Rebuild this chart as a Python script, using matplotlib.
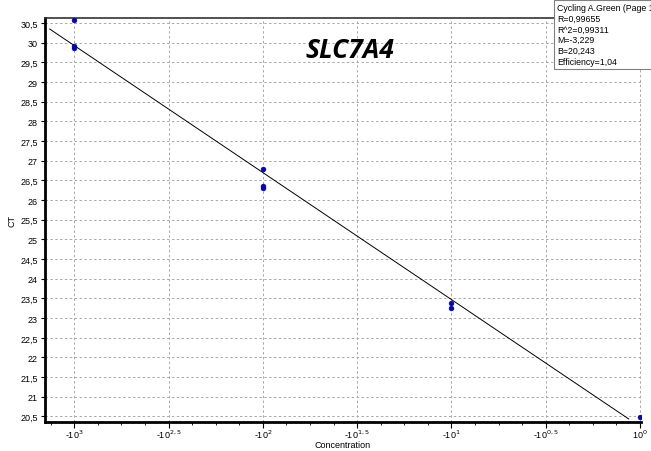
import matplotlib
matplotlib.use('Agg')
import matplotlib.pyplot as plt
from matplotlib.ticker import MultipleLocator, FixedLocator

# log concentration vs CT
log_conc = [-3, -3, -3, -2, -2, -2, -1, -1, 0]
ct = [30.58, 29.93, 29.88, 26.80, 26.35, 26.30, 23.38, 23.25, 20.48]

slope = -3.229
intercept = 20.243
fit_range = [-3.13, -0.06]

x_ticks = [-3, -2.5, -2, -1.5, -1, -0.5, 0]
x_labels = ['-10$^{3}$', '-10$^{2,5}$', '-10$^{2}$', '-10$^{1,5}$',
            '-10$^{1}$', '-10$^{0,5}$', '10$^{0}$']
y_ticks = [20.5 + 0.5 * i for i in range(21)]

stats = ['Cycling A.Green (Page 1', 'R=0,99655', 'R^2=0,99311',
         'M=-3,229', 'B=20,243', 'Efficiency=1,04']

plt.rcParams['font.family'] = ['Liberation Sans', 'DejaVu Sans']

fig = plt.figure(figsize=(6.51, 4.52), dpi=100)
ax = fig.add_axes([45 / 651, 1 - 423 / 452, 596 / 651, 404 / 452])

ax.plot(fit_range, [slope * v + intercept for v in fit_range],
        color='black', lw=0.7, zorder=3)
ax.scatter(log_conc, ct, s=12, marker='o', color='#0000cc', zorder=4,
           edgecolors='#000080', linewidths=0.4)

ax.set_xlim(-3.155, 0.005)
ax.set_ylim(20.36, 30.63)
ax.xaxis.set_major_locator(FixedLocator(x_ticks))
ax.xaxis.set_minor_locator(MultipleLocator(0.125))
ax.set_xticklabels(x_labels)
ax.set_yticks(y_ticks)
ax.set_yticklabels([('%g' % v).replace('.', ',') for v in y_ticks])

ax.grid(True, which='major', color='#a8a8a8', ls=(0, (2.5, 2.5)), lw=0.7)
ax.tick_params(axis='both', which='major', labelsize=6.5, length=4,
               width=0.8)
ax.tick_params(axis='x', which='major', pad=0)
ax.tick_params(axis='y', which='major', length=3, pad=2)
ax.tick_params(axis='both', which='minor', length=2, width=0.6)

for side in ['left', 'bottom']:
    ax.spines[side].set_linewidth(2)
ax.spines['top'].set_linewidth(1.2)
ax.spines['top'].set_color('#333333')
ax.spines['right'].set_visible(False)

ax.set_xlabel('Concentration', fontsize=6.5, labelpad=0)
ax.set_ylabel('CT', fontsize=6.5, labelpad=3)

fig.text(350 / 651, 1 - 50 / 452, 'SLC7A4', fontsize=19, fontweight='bold',
         fontstyle='italic', family=['Open Sans', 'DejaVu Sans'],
         ha='center', va='center')

fig.text(557 / 651, 1 - 4 / 452, '\n'.join(stats), fontsize=6.3,
         ha='left', va='top', linespacing=1.25,
         bbox=dict(boxstyle='square,pad=0.35', facecolor='white',
                   edgecolor='#808080', lw=0.8))

fig.savefig('out.png', dpi=100)
